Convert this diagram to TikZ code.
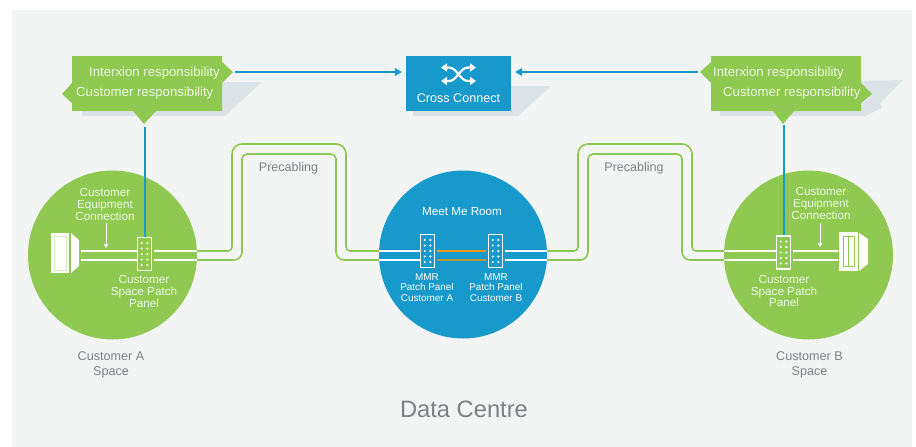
\documentclass[tikz,border=0pt]{standalone}
\usepackage{fontspec}
\setmainfont{Liberation Sans}
\usetikzlibrary{arrows.meta}
\definecolor{pagebg}{HTML}{F3F5F5}
\definecolor{shadowgrey}{HTML}{DCE3E6}
\definecolor{leaf}{HTML}{8FC951}
\definecolor{sky}{HTML}{1899CB}
\definecolor{wire}{HTML}{8CC84F}
\definecolor{xorange}{HTML}{E89A22}
\definecolor{xolive}{HTML}{B4993A}
\definecolor{labelgrey}{HTML}{7C8082}
\definecolor{soft}{HTML}{EEF7E2}
\tikzset{
  roomA/.style={circle,fill=leaf,minimum size=169pt,inner sep=0pt},
  roomB/.style={circle,fill=sky,minimum size=168pt,inner sep=0pt},
  panel/.style={draw=white,line width=1.5pt,minimum width=14pt,minimum height=33pt,inner sep=0pt},
  pipe/.style={white,line width=1.6pt},
  fibre/.style={wire,line width=1.6pt},
  link/.style={sky,line width=1.6pt},
  linkarrow/.style={link,-{Triangle[length=7pt,width=8pt]},shorten >=4pt},
  txt/.style={align=center,inner sep=0pt,text=soft,font=\fontsize{11.7}{11.7}\selectfont},
  small/.style={txt,text=white,font=\fontsize{9.9}{10.2}\selectfont},
  resp/.style={txt,font=\fontsize{13.2}{14}\selectfont},
  grey/.style={align=center,inner sep=0pt,text=labelgrey,font=\fontsize{12.6}{15}\selectfont},
}
\begin{document}
\begin{tikzpicture}[x=1pt,y=-1pt,line join=round]
\useasboundingbox (0,0) rectangle (916,447);
\fill[pagebg] (12,10) rectangle (912,447);
% shadows
\fill[shadowgrey] (82,116)--(225,116)--(250,93)--(262,82)--(222,82)--(222,111)--(82,111)--cycle;
\fill[shadowgrey] (413,116)--(518,116)--(551,86)--(505,86)--(505,111)--(413,111)--cycle;
\fill[shadowgrey] (720,116)--(865,116)--(882,108)--(880,103)--(903,80)--(855,81)--(855,111)--(720,111)--cycle;
% rooms
\node[roomA] (spaceA) at (112.5,255) {};
\node[roomB] (mmr) at (463,254.5) {};
\node[roomA] (spaceB) at (808.5,255) {};
% end points
\coordinate (devA1) at (81,251);
\coordinate (devA2) at (81,260);
\coordinate (devB1) at (838,251);
\coordinate (devB2) at (838,260);
\coordinate (edgeA1) at (197,251);
\coordinate (edgeA2) at (197,260);
\coordinate (edgeC1) at (379,251);
\coordinate (edgeC2) at (379,260);
\coordinate (edgeD1) at (547,251);
\coordinate (edgeD2) at (547,260);
\coordinate (edgeB1) at (724,251);
\coordinate (edgeB2) at (724,260);
% patch panels
\node[panel] (panelA) at (144.5,254) {};
\node[panel] (panelC) at (427.5,251) {};
\node[panel] (panelD) at (495.5,251) {};
\node[panel] (panelB) at (783.5,252.5) {};
\foreach \pn in {panelA,panelC,panelD,panelB}
  \foreach \dx in {-2.8,2.8}
    \foreach \dy in {-11,-5.5,0,5.5,11}
      \fill[white,shift={(\pn)}] (\dx,\dy) circle (1.2);
% pipes
\draw[pipe] (devA1)--(devA1 -| panelA.west) (devA2)--(devA2 -| panelA.west);
\draw[pipe,shorten <=1.5pt] (edgeA1 -| panelA.east)--(edgeA1);
\draw[pipe,shorten <=1.5pt] (edgeA2 -| panelA.east)--(edgeA2);
\draw[pipe] (edgeC1)--(edgeC1 -| panelC.west) (edgeC2)--(edgeC2 -| panelC.west);
\draw[pipe,shorten <=1.5pt] (edgeD1 -| panelD.east)--(edgeD1);
\draw[pipe,shorten <=1.5pt] (edgeD2 -| panelD.east)--(edgeD2);
\draw[pipe] (edgeB1)--(edgeB1 -| panelB.west) (edgeB2)--(edgeB2 -| panelB.west);
\draw[pipe,shorten <=1.5pt] (edgeB1 -| panelB.east)--(devB1);
\draw[pipe,shorten <=1.5pt] (edgeB2 -| panelB.east)--(devB2);
\draw[xorange,line width=1.6pt,shorten <=1.5pt,shorten >=1.5pt] (edgeC1 -| panelC.east)--(edgeC1 -| panelD.west);
\draw[xolive,line width=1.6pt,shorten <=1.5pt,shorten >=1.5pt] (edgeC2 -| panelC.east)--(edgeC2 -| panelD.west);
% precabling
\draw[fibre] (edgeA1) [rounded corners=4pt] -- (232,251) [rounded corners=10pt] -- (232,144) -- (346,144) [rounded corners=4pt] -- (346,251) -- (edgeC1);
\draw[fibre] (edgeA2) [rounded corners=8pt] -- (242,260) [rounded corners=5pt] -- (242,154) -- (336,154) [rounded corners=8pt] -- (336,260) -- (edgeC2);
\draw[fibre] (edgeD1) [rounded corners=4pt] -- (578,251) [rounded corners=10pt] -- (578,144) -- (692,144) [rounded corners=4pt] -- (692,251) -- (edgeB1);
\draw[fibre] (edgeD2) [rounded corners=8pt] -- (588,260) [rounded corners=5pt] -- (588,154) -- (682,154) [rounded corners=8pt] -- (682,260) -- (edgeB2);
% equipment
\fill[white] (71,233)--(79,240)--(79,266)--(71,273)--cycle;
\fill[white] (51,233) rectangle (69,273);
\draw[leaf!35!white,line width=.7pt] (54,236) rectangle (66,270);
\fill[white] (839,232) rectangle (858,271);
\fill[white] (859,233)--(868,239)--(868,264)--(859,271)--cycle;
\draw[leaf,line width=.7pt] (843,236) rectangle (854,266) (848.5,236)--(848.5,266);
% callouts
\fill[leaf] (72,56)--(222,56)--(222,62)--(233,72)--(222,83)--(222,111)--(156,111)--(144,124)--(133,111)--(72,111)--(72,103)--(62,94)--(72,83)--cycle;
\fill[leaf] (711,56)--(861,56)--(861,83)--(872,94)--(861,103)--(861,111)--(794,111)--(783,124)--(773,111)--(711,111)--(711,83)--(700,72)--(711,62)--cycle;
\node[resp,anchor=west] (respA1) at (89,73) {Interxion responsibility};
\node[resp,anchor=west] (respA2) at (76,93) {Customer responsibility};
\node[resp,anchor=west] (respB1) at (713,73) {Interxion responsibility};
\node[resp,anchor=west] (respB2) at (723,93) {Customer responsibility};
% cross connect
\node[fill=sky,minimum width=105pt,minimum height=55pt,inner sep=0pt] (cross) at (458.5,83.5) {};
\node[txt,text=white,font=\fontsize{12.6}{13}\selectfont] (crossT) at (458.5,98) {Cross Connect};
\draw[white,line width=2.2pt,{Triangle[length=6pt,width=8pt]}-{Triangle[length=6pt,width=8pt]}] (441,67.5)--(449,67.5) .. controls (457,67.5) and (460,81) .. (468,81)--(476,81);
\draw[white,line width=2.2pt,{Triangle[length=6pt,width=8pt]}-{Triangle[length=6pt,width=8pt]}] (441,81)--(449,81) .. controls (457,81) and (460,67.5) .. (468,67.5)--(476,67.5);
% links
\coordinate (linkA) at (235,72);
\coordinate (linkB) at (698,72);
\coordinate (dropA) at (145,127);
\coordinate (dropB) at (784,125);
\draw[linkarrow] (linkA)--(linkA -| cross.west);
\draw[linkarrow] (linkB)--(linkB -| cross.east);
\draw[link] (dropA)--(dropA |- panelA.north);
\draw[link] (dropB)--(dropB |- panelB.north);
% equipment arrows
\coordinate (eqA) at (106,223);
\coordinate (eqB) at (820,223);
\draw[white,line width=.9pt,-{Triangle[length=4pt,width=4.5pt]}] (eqA)--(106,248);
\draw[white,line width=.9pt,-{Triangle[length=4pt,width=4.5pt]}] (eqB)--(820,247);
% labels
\node[txt] (eqTxtA) at (105,204.5) {Customer\\Equipment\\Connection};
\node[txt] (eqTxtB) at (821,203.5) {Customer\\Equipment\\Connection};
\node[txt] (panelTxtA) at (144,291.5) {Customer\\Space Patch\\Panel};
\node[txt] (panelTxtB) at (784,291) {Customer\\Space Patch\\Panel};
\node[txt,text=white] (mmrTxt) at (462,212) {Meet Me Room};
\node[small] (panelTxtC) at (427,287.5) {MMR\\Patch Panel\\Customer A};
\node[small] (panelTxtD) at (496,287.5) {MMR\\Patch Panel\\Customer B};
\node[grey,font=\fontsize{12.5}{13}\selectfont] (preA) at (288.5,168) {Precabling};
\node[grey,font=\fontsize{12.5}{13}\selectfont] (preB) at (634,168) {Precabling};
\node[grey] (nameA) at (111,364.5) {Customer A\\Space};
\node[grey] (nameB) at (809.5,364.5) {Customer B\\Space};
\node[grey,font=\fontsize{23.7}{25}\selectfont] (dc) at (464,409) {Data Centre};
\end{tikzpicture}
\end{document}
